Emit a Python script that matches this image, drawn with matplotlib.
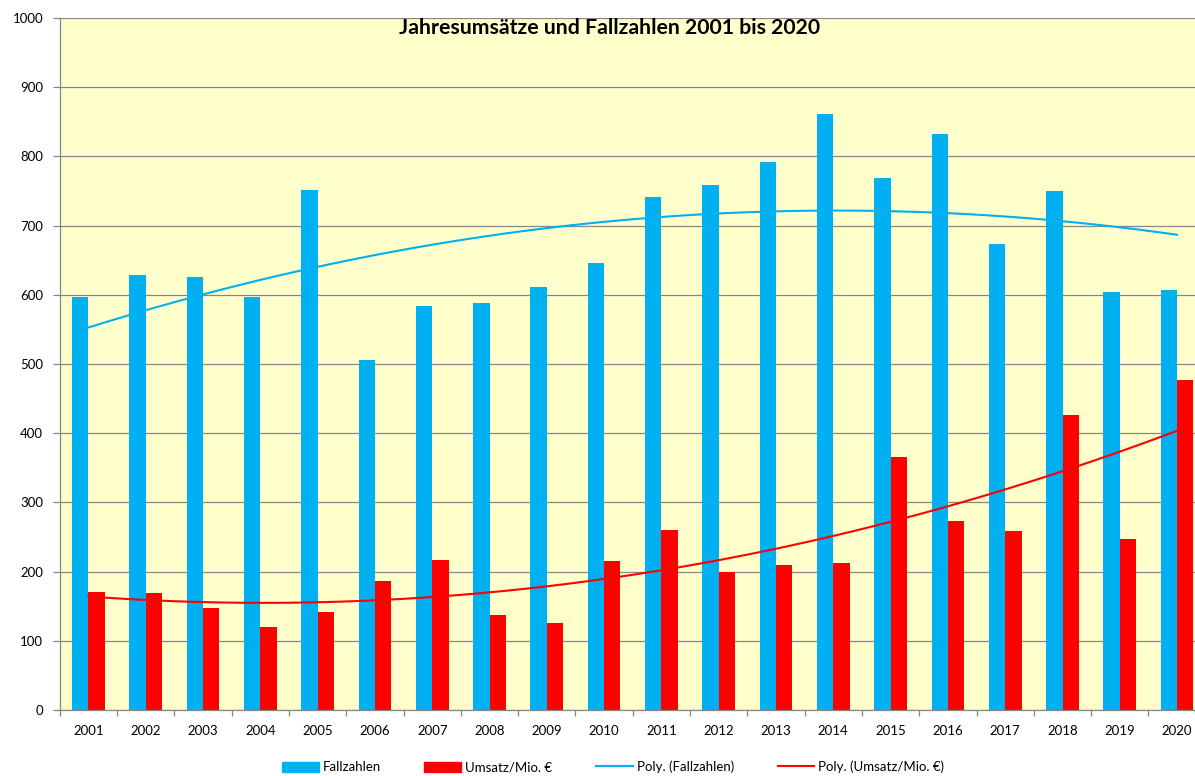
import matplotlib
matplotlib.use('Agg')
import matplotlib.pyplot as plt
from matplotlib.patches import Patch
from matplotlib.lines import Line2D
import numpy as np

plt.rcParams['font.family'] = ['Lato', 'DejaVu Sans']

years = [str(y) for y in range(2001, 2021)]
fallzahlen = [597, 628, 626, 597, 752, 506, 584, 588, 611, 646,
              741, 759, 792, 861, 768, 832, 674, 750, 604, 607]
umsatz = [171, 169, 147, 120, 142, 187, 216, 137, 126, 215,
          260, 200, 209, 213, 365, 273, 258, 426, 247, 477]

blue = '#00B0F0'
red = '#FF0000'
grid_col = '#878787'

fig = plt.figure(figsize=(11.95, 7.76), dpi=100)
# plot area runs slightly past the right edge, like the cropped original
ax = fig.add_axes([0.05, 0.0851, 0.959, 0.8918])
ax.set_facecolor('#FFFFCC')

x = np.arange(len(years))
bw = 0.285
ax.bar(x - bw / 2, fallzahlen, width=bw, color=blue, zorder=2)
ax.bar(x + bw / 2, umsatz, width=bw, color=red, zorder=2)

# polynomial trendlines (2nd order), like Excel's "Poly."
xs = np.linspace(0, len(years) - 1, 200)
p_f = np.polyfit(x + 1, fallzahlen, 2)
p_u = np.polyfit(x + 1, umsatz, 2)
ax.plot(xs, np.polyval(p_f, xs + 1), color=blue, lw=1.5, zorder=3)
ax.plot(xs, np.polyval(p_u, xs + 1), color=red, lw=1.5, zorder=3)

ax.set_xlim(-0.5, len(years) - 0.5)
ax.set_ylim(0, 1000)
ax.set_yticks(np.arange(0, 1001, 100))
ax.yaxis.grid(True, color=grid_col, lw=0.9, zorder=1)
ax.set_axisbelow(True)

ax.set_xticks(x)
ax.set_xticklabels(years)
ax.set_xticks(np.arange(-0.5, len(years), 1), minor=True)
ax.tick_params(axis='x', which='major', length=0, pad=11, labelsize=9.5)
ax.tick_params(axis='x', which='minor', length=4, color=grid_col, width=0.9)
ax.tick_params(axis='y', length=5, color=grid_col, width=0.9, pad=7, labelsize=9.5)

for s in ['top', 'right']:
    ax.spines[s].set_visible(False)
for s in ['left', 'bottom']:
    ax.spines[s].set_color(grid_col)
    ax.spines[s].set_linewidth(0.9)

fig.text(0.51, 1 - 28 / 776, 'Jahresumsätze und Fallzahlen 2001 bis 2020',
         ha='center', va='center', fontsize=15.3, fontweight='bold')

handles = [Patch(color=blue), Patch(color=red),
           Line2D([], [], color=blue, lw=1.5), Line2D([], [], color=red, lw=1.5)]
labels = ['Fallzahlen', 'Umsatz/Mio. €', 'Poly. (Fallzahlen)', 'Poly. (Umsatz/Mio. €)']
fig.legend(handles, labels, loc='center', bbox_to_anchor=(0.513, 1 - 767 / 776),
           ncol=4, frameon=False, fontsize=9.5, handlelength=2.8, handleheight=0.8,
           handletextpad=0.3, columnspacing=3.3)

fig.savefig('out.png', dpi=100)
